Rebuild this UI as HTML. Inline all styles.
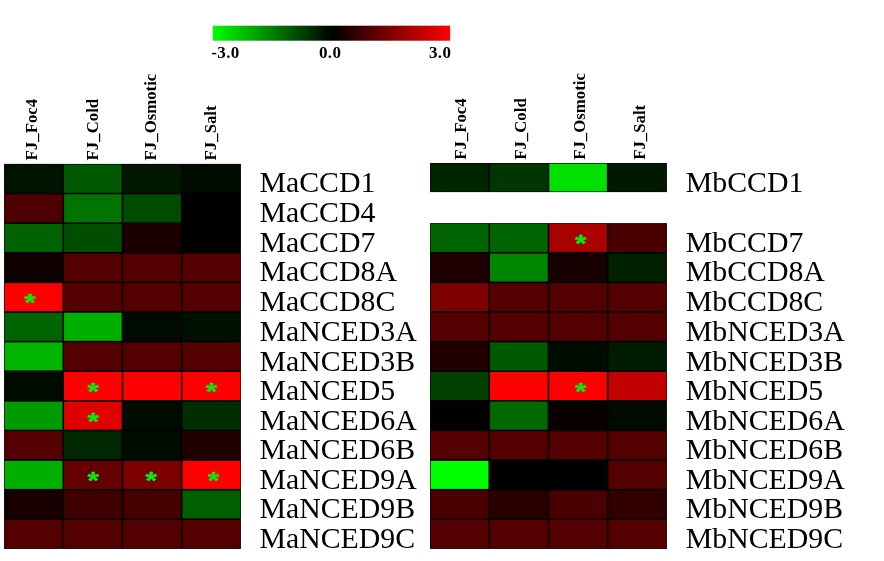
<!DOCTYPE html>
<html><head><meta charset="utf-8"><title>Heatmap</title>
<style>
html,body{margin:0;padding:0;background:#fff;}
body{width:884px;height:561px;overflow:hidden;}
svg{display:block;}
text{font-kerning:none;}
.rl{font-family:"Liberation Serif","Times New Roman",serif;font-size:29.8px;fill:#000;}
.cl{font-family:"Liberation Serif","Times New Roman",serif;font-size:16.8px;font-weight:bold;fill:#000;}
.sc{font-family:"Liberation Serif","Times New Roman",serif;font-size:17px;font-weight:bold;fill:#000;letter-spacing:0.35px;}
.st{font-family:"Liberation Sans",Arial,sans-serif;font-size:24.8px;font-weight:bold;fill:#0aea0a;stroke:#0aea0a;stroke-width:0.45px;stroke-linejoin:round;text-anchor:middle;}
</style></head><body>
<svg width="884" height="561" viewBox="0 0 884 561">
<defs><linearGradient id="cb" x1="0" y1="0" x2="1" y2="0">
<stop offset="0" stop-color="#00ff00"/><stop offset="0.505" stop-color="#000000"/><stop offset="1" stop-color="#ff0000"/>
</linearGradient></defs>
<rect x="0" y="0" width="884" height="561" fill="#ffffff"/>
<rect x="212.8" y="25.7" width="237.3" height="15" fill="url(#cb)"/>
<text class="sc" x="211.3" y="57.8">-3.0</text>
<text class="sc" x="319" y="57.8">0.0</text>
<text class="sc" x="429" y="57.8">3.0</text>

<rect x="4.07" y="163.90" width="236.83" height="385.00" fill="#000"/>
<rect x="4.72" y="164.55" width="57.78" height="28.19" fill="rgb(0,20,0)"/>
<rect x="64.06" y="164.55" width="57.65" height="28.19" fill="rgb(0,88,0)"/>
<rect x="123.27" y="164.55" width="57.65" height="28.19" fill="rgb(0,24,0)"/>
<rect x="182.47" y="164.55" width="57.78" height="28.19" fill="rgb(0,12,0)"/>
<rect x="4.72" y="194.30" width="57.78" height="28.06" fill="rgb(78,0,0)"/>
<rect x="64.06" y="194.30" width="57.65" height="28.06" fill="rgb(0,115,0)"/>
<rect x="123.27" y="194.30" width="57.65" height="28.06" fill="rgb(0,75,0)"/>
<rect x="182.47" y="194.30" width="57.78" height="28.06" fill="rgb(0,0,0)"/>
<rect x="4.72" y="223.91" width="57.78" height="28.06" fill="rgb(0,98,0)"/>
<rect x="64.06" y="223.91" width="57.65" height="28.06" fill="rgb(0,78,0)"/>
<rect x="123.27" y="223.91" width="57.65" height="28.06" fill="rgb(28,0,0)"/>
<rect x="182.47" y="223.91" width="57.78" height="28.06" fill="rgb(0,0,0)"/>
<rect x="4.72" y="253.53" width="57.78" height="28.06" fill="rgb(14,0,0)"/>
<rect x="64.06" y="253.53" width="57.65" height="28.06" fill="rgb(85,0,0)"/>
<rect x="123.27" y="253.53" width="57.65" height="28.06" fill="rgb(85,0,0)"/>
<rect x="182.47" y="253.53" width="57.78" height="28.06" fill="rgb(85,0,0)"/>
<rect x="4.72" y="283.14" width="57.78" height="28.06" fill="rgb(255,0,0)"/>
<rect x="64.06" y="283.14" width="57.65" height="28.06" fill="rgb(85,0,0)"/>
<rect x="123.27" y="283.14" width="57.65" height="28.06" fill="rgb(85,0,0)"/>
<rect x="182.47" y="283.14" width="57.78" height="28.06" fill="rgb(85,0,0)"/>
<rect x="4.72" y="312.76" width="57.78" height="28.06" fill="rgb(0,100,0)"/>
<rect x="64.06" y="312.76" width="57.65" height="28.06" fill="rgb(0,175,0)"/>
<rect x="123.27" y="312.76" width="57.65" height="28.06" fill="rgb(0,10,0)"/>
<rect x="182.47" y="312.76" width="57.78" height="28.06" fill="rgb(0,16,0)"/>
<rect x="4.72" y="342.37" width="57.78" height="28.06" fill="rgb(0,180,0)"/>
<rect x="64.06" y="342.37" width="57.65" height="28.06" fill="rgb(85,0,0)"/>
<rect x="123.27" y="342.37" width="57.65" height="28.06" fill="rgb(85,0,0)"/>
<rect x="182.47" y="342.37" width="57.78" height="28.06" fill="rgb(85,0,0)"/>
<rect x="4.72" y="371.99" width="57.78" height="28.06" fill="rgb(0,12,0)"/>
<rect x="64.06" y="371.99" width="57.65" height="28.06" fill="rgb(255,0,0)"/>
<rect x="123.27" y="371.99" width="57.65" height="28.06" fill="rgb(255,0,0)"/>
<rect x="182.47" y="371.99" width="57.78" height="28.06" fill="rgb(255,0,0)"/>
<rect x="4.72" y="401.60" width="57.78" height="28.06" fill="rgb(0,155,0)"/>
<rect x="64.06" y="401.60" width="57.65" height="28.06" fill="rgb(225,0,0)"/>
<rect x="123.27" y="401.60" width="57.65" height="28.06" fill="rgb(0,12,0)"/>
<rect x="182.47" y="401.60" width="57.78" height="28.06" fill="rgb(0,46,0)"/>
<rect x="4.72" y="431.22" width="57.78" height="28.06" fill="rgb(85,0,0)"/>
<rect x="64.06" y="431.22" width="57.65" height="28.06" fill="rgb(0,40,0)"/>
<rect x="123.27" y="431.22" width="57.65" height="28.06" fill="rgb(0,12,0)"/>
<rect x="182.47" y="431.22" width="57.78" height="28.06" fill="rgb(35,0,0)"/>
<rect x="4.72" y="460.83" width="57.78" height="28.06" fill="rgb(0,175,0)"/>
<rect x="64.06" y="460.83" width="57.65" height="28.06" fill="rgb(100,0,0)"/>
<rect x="123.27" y="460.83" width="57.65" height="28.06" fill="rgb(125,0,0)"/>
<rect x="182.47" y="460.83" width="57.78" height="28.06" fill="rgb(255,0,0)"/>
<rect x="4.72" y="490.45" width="57.78" height="28.06" fill="rgb(25,0,0)"/>
<rect x="64.06" y="490.45" width="57.65" height="28.06" fill="rgb(62,0,0)"/>
<rect x="123.27" y="490.45" width="57.65" height="28.06" fill="rgb(70,0,0)"/>
<rect x="182.47" y="490.45" width="57.78" height="28.06" fill="rgb(0,95,0)"/>
<rect x="4.72" y="520.06" width="57.78" height="28.19" fill="rgb(85,0,0)"/>
<rect x="64.06" y="520.06" width="57.65" height="28.19" fill="rgb(85,0,0)"/>
<rect x="123.27" y="520.06" width="57.65" height="28.19" fill="rgb(85,0,0)"/>
<rect x="182.47" y="520.06" width="57.78" height="28.19" fill="rgb(85,0,0)"/>
<text class="st" transform="translate(29.97,310.87) scale(1.18,1)">*</text>
<text class="st" transform="translate(93.28,400.22) scale(1.18,1)">*</text>
<text class="st" transform="translate(211.40,400.22) scale(1.18,1)">*</text>
<text class="st" transform="translate(93.28,429.73) scale(1.18,1)">*</text>
<text class="st" transform="translate(93.28,489.36) scale(1.18,1)">*</text>
<text class="st" transform="translate(151.29,489.36) scale(1.18,1)">*</text>
<text class="st" transform="translate(213.40,489.36) scale(1.18,1)">*</text>
<text class="rl" x="259.5" y="192.40">MaCCD1</text>
<text class="rl" x="259.5" y="221.99">MaCCD4</text>
<text class="rl" x="259.5" y="251.58">MaCCD7</text>
<text class="rl" x="259.5" y="281.18">MaCCD8A</text>
<text class="rl" x="259.5" y="311.07">MaCCD8C</text>
<text class="rl" x="259.5" y="340.96">MaNCED3A</text>
<text class="rl" x="259.5" y="370.55">MaNCED3B</text>
<text class="rl" x="259.5" y="400.14">MaNCED5</text>
<text class="rl" x="259.5" y="429.73">MaNCED6A</text>
<text class="rl" x="259.5" y="459.33">MaNCED6B</text>
<text class="rl" x="259.5" y="488.72">MaNCED9A</text>
<text class="rl" x="259.5" y="517.91">MaNCED9B</text>
<text class="rl" x="259.5" y="547.50">MaNCED9C</text>
<text class="cl" transform="translate(37.47,160.4) rotate(-90)">FJ_Foc4</text>
<text class="cl" transform="translate(98.48,160.4) rotate(-90)">FJ_Cold</text>
<text class="cl" transform="translate(156.49,160.4) rotate(-90)">FJ_Osmotic</text>
<text class="cl" transform="translate(216.20,160.4) rotate(-90)">FJ_Salt</text>
<rect x="430.05" y="163.00" width="236.85" height="29.10" fill="#000"/>
<rect x="430.05" y="223.13" width="236.85" height="325.77" fill="#000"/>
<rect x="430.70" y="163.65" width="57.78" height="27.80" fill="rgb(0,38,0)"/>
<rect x="490.04" y="163.65" width="57.65" height="27.80" fill="rgb(0,55,0)"/>
<rect x="549.25" y="163.65" width="57.65" height="27.80" fill="rgb(0,225,0)"/>
<rect x="608.47" y="163.65" width="57.78" height="27.80" fill="rgb(0,25,0)"/>
<rect x="430.70" y="223.78" width="57.78" height="28.19" fill="rgb(0,100,0)"/>
<rect x="490.04" y="223.78" width="57.65" height="28.19" fill="rgb(0,100,0)"/>
<rect x="549.25" y="223.78" width="57.65" height="28.19" fill="rgb(170,0,0)"/>
<rect x="608.47" y="223.78" width="57.78" height="28.19" fill="rgb(75,0,0)"/>
<rect x="430.70" y="253.53" width="57.78" height="28.06" fill="rgb(30,0,0)"/>
<rect x="490.04" y="253.53" width="57.65" height="28.06" fill="rgb(0,135,0)"/>
<rect x="549.25" y="253.53" width="57.65" height="28.06" fill="rgb(22,0,0)"/>
<rect x="608.47" y="253.53" width="57.78" height="28.06" fill="rgb(0,32,0)"/>
<rect x="430.70" y="283.14" width="57.78" height="28.06" fill="rgb(125,0,0)"/>
<rect x="490.04" y="283.14" width="57.65" height="28.06" fill="rgb(85,0,0)"/>
<rect x="549.25" y="283.14" width="57.65" height="28.06" fill="rgb(85,0,0)"/>
<rect x="608.47" y="283.14" width="57.78" height="28.06" fill="rgb(85,0,0)"/>
<rect x="430.70" y="312.76" width="57.78" height="28.06" fill="rgb(85,0,0)"/>
<rect x="490.04" y="312.76" width="57.65" height="28.06" fill="rgb(85,0,0)"/>
<rect x="549.25" y="312.76" width="57.65" height="28.06" fill="rgb(85,0,0)"/>
<rect x="608.47" y="312.76" width="57.78" height="28.06" fill="rgb(85,0,0)"/>
<rect x="430.70" y="342.37" width="57.78" height="28.06" fill="rgb(35,0,0)"/>
<rect x="490.04" y="342.37" width="57.65" height="28.06" fill="rgb(0,90,0)"/>
<rect x="549.25" y="342.37" width="57.65" height="28.06" fill="rgb(0,12,0)"/>
<rect x="608.47" y="342.37" width="57.78" height="28.06" fill="rgb(0,28,0)"/>
<rect x="430.70" y="371.99" width="57.78" height="28.06" fill="rgb(0,65,0)"/>
<rect x="490.04" y="371.99" width="57.65" height="28.06" fill="rgb(255,0,0)"/>
<rect x="549.25" y="371.99" width="57.65" height="28.06" fill="rgb(255,0,0)"/>
<rect x="608.47" y="371.99" width="57.78" height="28.06" fill="rgb(195,0,0)"/>
<rect x="430.70" y="401.60" width="57.78" height="28.06" fill="rgb(2,0,0)"/>
<rect x="490.04" y="401.60" width="57.65" height="28.06" fill="rgb(0,105,0)"/>
<rect x="549.25" y="401.60" width="57.65" height="28.06" fill="rgb(9,0,0)"/>
<rect x="608.47" y="401.60" width="57.78" height="28.06" fill="rgb(0,10,0)"/>
<rect x="430.70" y="431.22" width="57.78" height="28.06" fill="rgb(85,0,0)"/>
<rect x="490.04" y="431.22" width="57.65" height="28.06" fill="rgb(85,0,0)"/>
<rect x="549.25" y="431.22" width="57.65" height="28.06" fill="rgb(85,0,0)"/>
<rect x="608.47" y="431.22" width="57.78" height="28.06" fill="rgb(85,0,0)"/>
<rect x="430.70" y="460.83" width="57.78" height="28.06" fill="rgb(0,255,0)"/>
<rect x="490.04" y="460.83" width="57.65" height="28.06" fill="rgb(0,0,0)"/>
<rect x="549.25" y="460.83" width="57.65" height="28.06" fill="rgb(0,0,0)"/>
<rect x="608.47" y="460.83" width="57.78" height="28.06" fill="rgb(85,0,0)"/>
<rect x="430.70" y="490.45" width="57.78" height="28.06" fill="rgb(75,0,0)"/>
<rect x="490.04" y="490.45" width="57.65" height="28.06" fill="rgb(40,0,0)"/>
<rect x="549.25" y="490.45" width="57.65" height="28.06" fill="rgb(75,0,0)"/>
<rect x="608.47" y="490.45" width="57.78" height="28.06" fill="rgb(50,0,0)"/>
<rect x="430.70" y="520.06" width="57.78" height="28.19" fill="rgb(85,0,0)"/>
<rect x="490.04" y="520.06" width="57.65" height="28.19" fill="rgb(85,0,0)"/>
<rect x="549.25" y="520.06" width="57.65" height="28.19" fill="rgb(85,0,0)"/>
<rect x="608.47" y="520.06" width="57.78" height="28.19" fill="rgb(85,0,0)"/>
<text class="st" transform="translate(580.68,251.94) scale(1.18,1)">*</text>
<text class="st" transform="translate(580.68,400.42) scale(1.18,1)">*</text>
<text class="rl" x="685.8" y="192.40">MbCCD1</text>
<text class="rl" x="685.8" y="251.58">MbCCD7</text>
<text class="rl" x="685.8" y="281.18">MbCCD8A</text>
<text class="rl" x="685.8" y="311.07">MbCCD8C</text>
<text class="rl" x="685.8" y="340.96">MbNCED3A</text>
<text class="rl" x="685.8" y="370.55">MbNCED3B</text>
<text class="rl" x="685.8" y="400.14">MbNCED5</text>
<text class="rl" x="685.8" y="429.73">MbNCED6A</text>
<text class="rl" x="685.8" y="459.33">MbNCED6B</text>
<text class="rl" x="685.8" y="488.72">MbNCED9A</text>
<text class="rl" x="685.8" y="517.91">MbNCED9B</text>
<text class="rl" x="685.8" y="547.50">MbNCED9C</text>
<text class="cl" transform="translate(466.26,159.8) rotate(-90)">FJ_Foc4</text>
<text class="cl" transform="translate(526.37,159.8) rotate(-90)">FJ_Cold</text>
<text class="cl" transform="translate(584.78,159.8) rotate(-90)">FJ_Osmotic</text>
<text class="cl" transform="translate(645.09,159.8) rotate(-90)">FJ_Salt</text>
</svg></body></html>
